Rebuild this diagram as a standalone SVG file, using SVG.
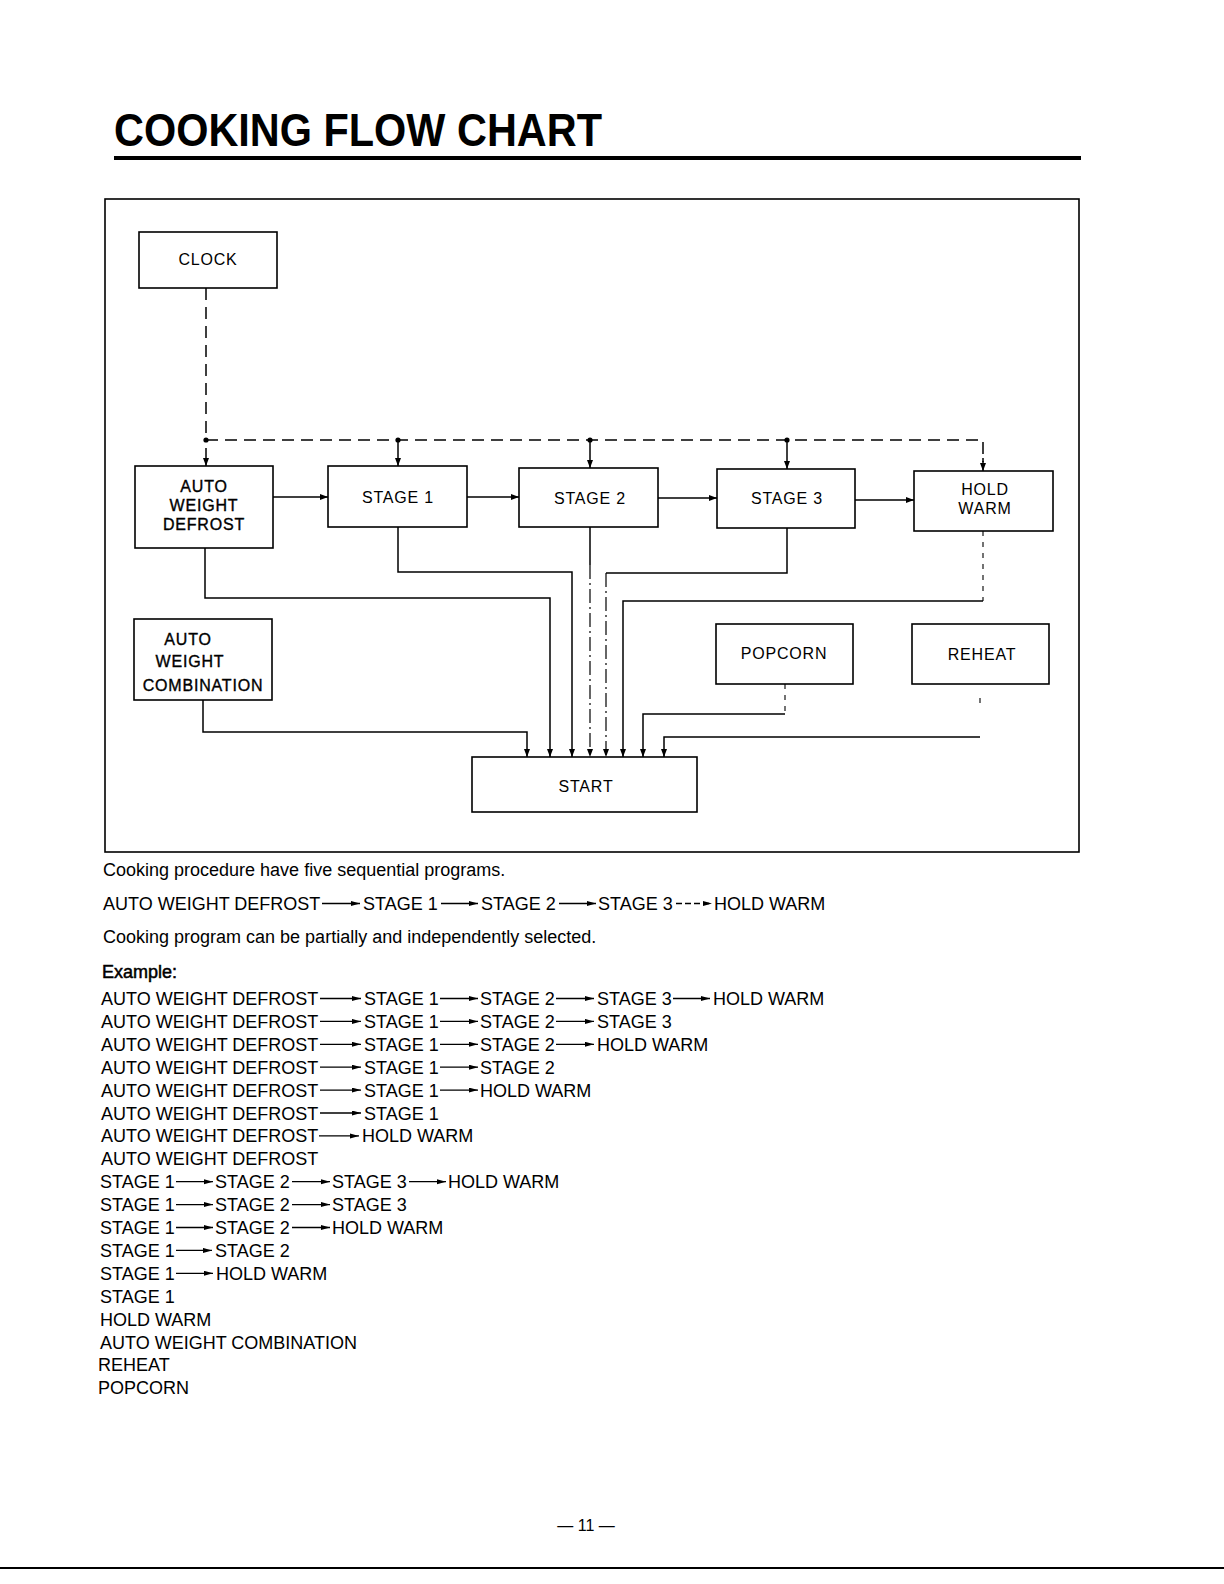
<svg xmlns="http://www.w3.org/2000/svg" width="1224" height="1584" viewBox="0 0 1224 1584">
<style>
.box{fill:none;stroke:#000;stroke-width:1.6}
.lbl{font-family:"Liberation Sans",Arial,sans-serif;font-size:16px;letter-spacing:0.8px;text-anchor:middle;fill:#000}
.lblb{stroke:#000;stroke-width:0.35}
.ln{fill:none;stroke:#000;stroke-width:1.5}
.dash{stroke-dasharray:12 7}
.dd{stroke-dasharray:14 4 2 4;stroke-width:1.2}
.faint{stroke-dasharray:5 6;stroke-width:1.1}
.txt{font-family:"Liberation Sans",Arial,sans-serif;font-size:18px;fill:#000}
.ta{stroke:#000;stroke-width:1.3}
</style>
<defs>
<marker id="ah" markerWidth="9" markerHeight="7" refX="8" refY="3" orient="auto" markerUnits="userSpaceOnUse"><path d="M0,0 L8,3 L0,6 z" fill="#000"/></marker>
<marker id="tah" markerWidth="10" markerHeight="6" refX="9" refY="2.5" orient="auto" markerUnits="userSpaceOnUse"><path d="M0,0 L9,2.5 L0,5 z" fill="#000"/></marker>
</defs>
<rect width="1224" height="1584" fill="#fff"/>

<g id="title">
<text x="114" y="146" font-family="'Liberation Sans',Arial,sans-serif" font-weight="bold" font-size="46" textLength="488" lengthAdjust="spacingAndGlyphs">COOKING FLOW CHART</text>
<rect x="114" y="156" width="967" height="4" fill="#000"/>
</g>

<rect id="frame" x="105" y="199" width="974" height="653" class="box"/>

<g id="connectors">
<path class="ln dash" d="M206 288 V440 H983 V462"/>
<path class="ln" d="M983 458 V471" marker-end="url(#ah)"/>
<path class="ln" d="M206 448 V466" marker-end="url(#ah)"/>
<path class="ln" d="M398 440 V466" marker-end="url(#ah)"/>
<path class="ln" d="M590 440 V468" marker-end="url(#ah)"/>
<path class="ln" d="M787 440 V469" marker-end="url(#ah)"/>
<circle cx="206" cy="440" r="2.6" fill="#000"/>
<circle cx="398" cy="440" r="2.6" fill="#000"/>
<circle cx="590" cy="440" r="2.6" fill="#000"/>
<circle cx="787" cy="440" r="2.6" fill="#000"/>
<path class="ln" d="M273 497 H328" marker-end="url(#ah)"/>
<path class="ln" d="M467 497 H519" marker-end="url(#ah)"/>
<path class="ln" d="M658 498 H717" marker-end="url(#ah)"/>
<path class="ln" d="M855 500 H914" marker-end="url(#ah)"/>
<path class="ln" d="M203 700 V732 H527 V757" marker-end="url(#ah)"/>
<path class="ln" d="M205 548 V598 H550 V757" marker-end="url(#ah)"/>
<path class="ln" d="M398 527 V572 H572 V757" marker-end="url(#ah)"/>
<path class="ln" d="M590 527 V565"/>
<path class="ln dd" d="M590 565 V757" marker-end="url(#ah)"/>
<path class="ln" d="M787 528 V548"/>
<path class="ln" d="M787 548 V573 H606"/>
<path class="ln dd" d="M606 573 V757" marker-end="url(#ah)"/>
<path class="ln faint" d="M983 531 V601"/>
<path class="ln" d="M983 601 H623 V757" marker-end="url(#ah)"/>
<path class="ln faint" d="M785 684 V714"/>
<path class="ln" d="M785 714 H643 V757" marker-end="url(#ah)"/>
<path class="ln faint" d="M980 698 V708"/>
<path class="ln" d="M980 737 H664 V757" marker-end="url(#ah)"/>
</g>

<g id="clock">
<rect class="box" x="139" y="232" width="138" height="56"/>
<text class="lbl" x="208" y="265">CLOCK</text>
</g>
<g id="auto-weight-defrost">
<rect class="box" x="135" y="466" width="138" height="82"/>
<text class="lbl lblb" x="204" y="492">AUTO</text>
<text class="lbl lblb" x="204" y="511">WEIGHT</text>
<text class="lbl lblb" x="204" y="530">DEFROST</text>
</g>
<g id="stage1">
<rect class="box" x="328" y="466" width="139" height="61"/>
<text class="lbl" x="398" y="503">STAGE 1</text>
</g>
<g id="stage2">
<rect class="box" x="519" y="468" width="139" height="59"/>
<text class="lbl" x="590" y="504">STAGE 2</text>
</g>
<g id="stage3">
<rect class="box" x="717" y="469" width="138" height="59"/>
<text class="lbl" x="787" y="504">STAGE 3</text>
</g>
<g id="hold-warm">
<rect class="box" x="914" y="471" width="139" height="60"/>
<text class="lbl" x="985" y="495">HOLD</text>
<text class="lbl" x="985" y="514">WARM</text>
</g>
<g id="auto-weight-combination">
<rect class="box" x="134" y="619" width="138" height="81"/>
<text class="lbl lblb" x="188" y="645">AUTO</text>
<text class="lbl lblb" x="190" y="667">WEIGHT</text>
<text class="lbl lblb" x="203" y="691">COMBINATION</text>
</g>
<g id="popcorn">
<rect class="box" x="716" y="624" width="137" height="60"/>
<text class="lbl" x="784" y="659">POPCORN</text>
</g>
<g id="reheat">
<rect class="box" x="912" y="624" width="137" height="60"/>
<text class="lbl" x="982" y="660">REHEAT</text>
</g>
<g id="start">
<rect class="box" x="472" y="757" width="225" height="55"/>
<text class="lbl" x="586" y="792">START</text>
</g>

<g id="notes" class="txt">
<text x="103" y="876">Cooking procedure have five sequential programs.</text>
<text y="910"><tspan x="103">AUTO WEIGHT DEFROST</tspan><tspan x="363">STAGE 1</tspan><tspan x="481">STAGE 2</tspan><tspan x="598">STAGE 3</tspan><tspan x="714">HOLD WARM</tspan></text>
<text x="103" y="943">Cooking program can be partially and independently selected.</text>
<text x="102" y="978" stroke="#000" stroke-width="0.5">Example:</text>

<text y="1005"><tspan x="101">AUTO WEIGHT DEFROST</tspan><tspan x="364">STAGE 1</tspan><tspan x="480">STAGE 2</tspan><tspan x="597">STAGE 3</tspan><tspan x="713">HOLD WARM</tspan></text>
<text y="1027.9"><tspan x="101">AUTO WEIGHT DEFROST</tspan><tspan x="364">STAGE 1</tspan><tspan x="480">STAGE 2</tspan><tspan x="597">STAGE 3</tspan></text>
<text y="1050.8"><tspan x="101">AUTO WEIGHT DEFROST</tspan><tspan x="364">STAGE 1</tspan><tspan x="480">STAGE 2</tspan><tspan x="597">HOLD WARM</tspan></text>
<text y="1073.7"><tspan x="101">AUTO WEIGHT DEFROST</tspan><tspan x="364">STAGE 1</tspan><tspan x="480">STAGE 2</tspan></text>
<text y="1096.6"><tspan x="101">AUTO WEIGHT DEFROST</tspan><tspan x="364">STAGE 1</tspan><tspan x="480">HOLD WARM</tspan></text>
<text y="1119.5"><tspan x="101">AUTO WEIGHT DEFROST</tspan><tspan x="364">STAGE 1</tspan></text>
<text y="1142.4"><tspan x="101">AUTO WEIGHT DEFROST</tspan><tspan x="362">HOLD WARM</tspan></text>
<text x="101" y="1165.3">AUTO WEIGHT DEFROST</text>
<text y="1188.2"><tspan x="100">STAGE 1</tspan><tspan x="215">STAGE 2</tspan><tspan x="332">STAGE 3</tspan><tspan x="448">HOLD WARM</tspan></text>
<text y="1211.1"><tspan x="100">STAGE 1</tspan><tspan x="215">STAGE 2</tspan><tspan x="332">STAGE 3</tspan></text>
<text y="1234"><tspan x="100">STAGE 1</tspan><tspan x="215">STAGE 2</tspan><tspan x="332">HOLD WARM</tspan></text>
<text y="1256.9"><tspan x="100">STAGE 1</tspan><tspan x="215">STAGE 2</tspan></text>
<text y="1279.8"><tspan x="100">STAGE 1</tspan><tspan x="216">HOLD WARM</tspan></text>
<text x="100" y="1302.7">STAGE 1</text>
<text x="100" y="1325.6">HOLD WARM</text>
<text x="100" y="1348.5">AUTO WEIGHT COMBINATION</text>
<text x="98" y="1371.4">REHEAT</text>
<text x="98" y="1394.3">POPCORN</text>
</g>

<g id="text-arrows">
<line class="ta" x1="322" y1="903.5" x2="360" y2="903.5" marker-end="url(#tah)"/>
<line class="ta" x1="441" y1="903.5" x2="478" y2="903.5" marker-end="url(#tah)"/>
<line class="ta" x1="559" y1="903.5" x2="596" y2="903.5" marker-end="url(#tah)"/>
<line class="ta" x1="676" y1="903.5" x2="712" y2="903.5" marker-end="url(#tah)" stroke-dasharray="6 3"/>

<line class="ta" x1="320" y1="998.5" x2="361" y2="998.5" marker-end="url(#tah)"/>
<line class="ta" x1="440" y1="998.5" x2="478" y2="998.5" marker-end="url(#tah)"/>
<line class="ta" x1="556" y1="998.5" x2="594" y2="998.5" marker-end="url(#tah)"/>
<line class="ta" x1="673" y1="998.5" x2="710" y2="998.5" marker-end="url(#tah)"/>

<line class="ta" x1="320" y1="1021.4" x2="361" y2="1021.4" marker-end="url(#tah)"/>
<line class="ta" x1="440" y1="1021.4" x2="478" y2="1021.4" marker-end="url(#tah)"/>
<line class="ta" x1="556" y1="1021.4" x2="594" y2="1021.4" marker-end="url(#tah)"/>

<line class="ta" x1="320" y1="1044.3" x2="361" y2="1044.3" marker-end="url(#tah)"/>
<line class="ta" x1="440" y1="1044.3" x2="478" y2="1044.3" marker-end="url(#tah)"/>
<line class="ta" x1="556" y1="1044.3" x2="594" y2="1044.3" marker-end="url(#tah)"/>

<line class="ta" x1="320" y1="1067.2" x2="361" y2="1067.2" marker-end="url(#tah)"/>
<line class="ta" x1="440" y1="1067.2" x2="478" y2="1067.2" marker-end="url(#tah)"/>

<line class="ta" x1="320" y1="1090.1" x2="361" y2="1090.1" marker-end="url(#tah)"/>
<line class="ta" x1="440" y1="1090.1" x2="478" y2="1090.1" marker-end="url(#tah)"/>

<line class="ta" x1="320" y1="1113" x2="361" y2="1113" marker-end="url(#tah)"/>

<line class="ta" x1="319" y1="1135.9" x2="359" y2="1135.9" marker-end="url(#tah)"/>

<line class="ta" x1="176" y1="1181.7" x2="213" y2="1181.7" marker-end="url(#tah)"/>
<line class="ta" x1="292" y1="1181.7" x2="330" y2="1181.7" marker-end="url(#tah)"/>
<line class="ta" x1="409" y1="1181.7" x2="446" y2="1181.7" marker-end="url(#tah)"/>

<line class="ta" x1="176" y1="1204.6" x2="213" y2="1204.6" marker-end="url(#tah)"/>
<line class="ta" x1="292" y1="1204.6" x2="330" y2="1204.6" marker-end="url(#tah)"/>

<line class="ta" x1="176" y1="1227.5" x2="213" y2="1227.5" marker-end="url(#tah)"/>
<line class="ta" x1="292" y1="1227.5" x2="330" y2="1227.5" marker-end="url(#tah)"/>

<line class="ta" x1="176" y1="1250.4" x2="212" y2="1250.4" marker-end="url(#tah)"/>

<line class="ta" x1="176" y1="1273.3" x2="213" y2="1273.3" marker-end="url(#tah)"/>
</g>

<g id="footer">
<text x="586" y="1531" font-family="'Liberation Sans',Arial,sans-serif" font-size="16" text-anchor="middle">— 11 —</text>
<rect x="0" y="1567" width="1224" height="2" fill="#000"/>
</g>
</svg>
